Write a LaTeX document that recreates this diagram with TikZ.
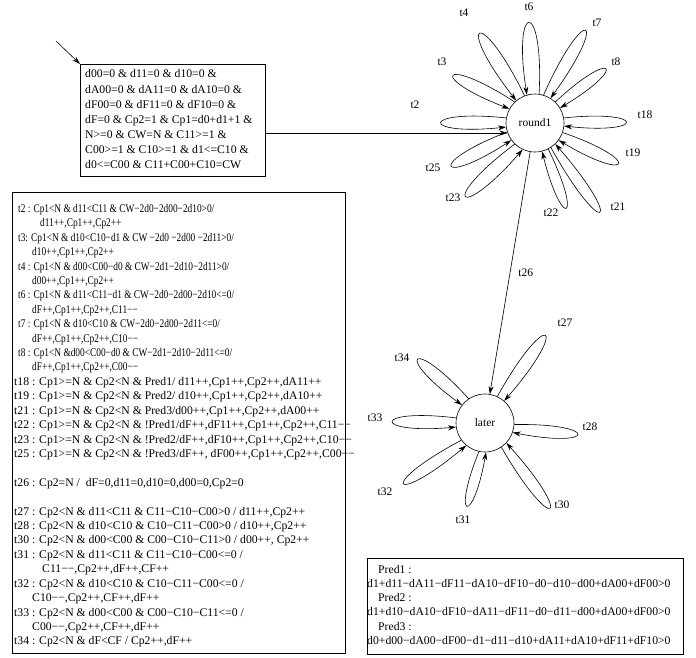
\documentclass[tikz,border=0pt]{standalone}
\usepackage{fontspec}
\setmainfont{Liberation Serif}
\newfontfamily\narrowserif{Liberation Serif}[FakeStretch=0.8]
\usepackage{tikz}
\usetikzlibrary{arrows.meta}
\tikzstyle{arrow} = [line width=0.6pt,->,>={Stealth[length=8pt,width=5pt]}]
\tikzstyle{state_node} = [circle, draw, line width=0.6pt, minimum size=58pt, inner sep=0pt, font=\fontsize{11.5}{13}\selectfont]
\tikzstyle{lbl} = [inner sep=0pt, font=\fontsize{11.5}{13}\selectfont]
\tikzstyle{box_frame} = [draw, line width=0.6pt, anchor=north west, inner sep=0pt]
\tikzstyle{box_text} = [anchor=west, align=left, inner sep=0pt]
\newcommand{\smallrule}{\narrowserif\fontsize{11.7}{14.42}\selectfont}

\begin{document}
\begin{tikzpicture}[x=1pt, y=1pt]
    \useasboundingbox (0,0) rectangle (696,-657);

    \node (round1) [state_node] at (535,-123) {round1};
    \node (later) [state_node] at (485,-423) {later};

    % initial marking
    \node (init_box) [box_frame, minimum width=185pt, minimum height=112pt] at (80,-64) {};
    \node (init) [box_text, at={(init_box.west)}, shift={(5,1)}, font=\fontsize{11.7}{15.1}\selectfont] {d00=0 \& d11=0 \& d10=0 \&\\
        dA00=0 \& dA11=0 \& dA10=0 \&\\
        dF00=0 \& dF11=0 \& dF10=0 \&\\
        dF=0 \& Cp2=1 \& Cp1=d0+d1+1 \&\\
        N>=0 \& CW=N \& C11>=1 \&\\
        C00>=1 \& C10>=1 \& d1<=C10 \&\\
        d0<=C00 \& C11+C00+C10=CW};
    \coordinate (entry) at (56,-41);

    % guards and actions
    \node (rules_box) [box_frame, minimum width=333pt, minimum height=461pt] at (12,-192) {};
    \node (rules) [box_text, at={(rules_box.west)}, shift={(2,-3)}, font=\fontsize{11.7}{14.42}\selectfont] {\smallrule\hspace*{4pt}t2 : Cp1<N \& d11<C11 \& CW−2d0−2d00−2d10>0/\\
        \smallrule\hspace*{26pt}d11++,Cp1++,Cp2++\\
        \smallrule\hspace*{4pt}t3: Cp1<N \& d10<C10−d1 \& CW −2d0 −2d00 −2d11>0/\\
        \smallrule\hspace*{18pt}d10++,Cp1++,Cp2++\\
        \smallrule\hspace*{4pt}t4 : Cp1<N \& d00<C00−d0 \& CW−2d1−2d10−2d11>0/\\
        \smallrule\hspace*{18pt}d00++,Cp1++,Cp2++\\
        \smallrule\hspace*{4pt}t6 : Cp1<N \& d11<C11−d1 \& CW−2d0−2d00−2d10<=0/\\
        \smallrule\hspace*{18pt}dF++,Cp1++,Cp2++,C11−−\\
        \smallrule\hspace*{4pt}t7 : Cp1<N \& d10<C10 \& CW−2d0−2d00−2d11<=0/\\
        \smallrule\hspace*{18pt}dF++,Cp1++,Cp2++,C10−−\\
        \smallrule\hspace*{4pt}t8 : Cp1<N \&d00<C00−d0 \& CW−2d1−2d10−2d11<=0/\\
        \smallrule\hspace*{18pt}dF++,Cp1++,Cp2++,C00−−\\
        t18 : Cp1>=N \& Cp2<N \& Pred1/ d11++,Cp1++,Cp2++,dA11++\\
        t19 : Cp1>=N \& Cp2<N \& Pred2/ d10++,Cp1++,Cp2++,dA10++\\
        t21 : Cp1>=N \& Cp2<N \& Pred3/d00++,Cp1++,Cp2++,dA00++\\
        t22 : Cp1>=N \& Cp2<N \& !Pred1/dF++,dF11++,Cp1++,Cp2++,C11−−\\
        t23 : Cp1>=N \& Cp2<N \& !Pred2/dF++,dF10++,Cp1++,Cp2++,C10−−\\
        t25 : Cp1>=N \& Cp2<N \& !Pred3/dF++, dF00++,Cp1++,Cp2++,C00−−\\
        \mbox{}\\
        t26 : Cp2=N /~ dF=0,d11=0,d10=0,d00=0,Cp2=0\\
        \mbox{}\\
        t27 : Cp2<N \& d11<C11 \& C11−C10−C00>0 / d11++,Cp2++\\
        t28 : Cp2<N \& d10<C10 \& C10−C11−C00>0 / d10++,Cp2++\\
        t30 : Cp2<N \& d00<C00 \& C00−C10−C11>0 / d00++, Cp2++\\
        t31 : Cp2<N \& d11<C11 \& C11−C10−C00<=0 /\\
        \hspace*{28pt}C11−−,Cp2++,dF++,CF++\\
        t32 : Cp2<N \& d10<C10 \& C10−C11−C00<=0 /\\
        \hspace*{18pt}C10−−,Cp2++,CF++,dF++\\
        t33 : Cp2<N \& d00<C00 \& C00−C10−C11<=0 /\\
        \hspace*{18pt}C00−−,Cp2++,CF++,dF++\\
        t34 : Cp2<N \& dF<CF / Cp2++,dF++};

    % predicates
    \node (pred_box) [box_frame, minimum width=316pt, minimum height=96pt] at (367,-558) {};
    \node (preds) [box_text, at={(pred_box.west)}, shift={(0,1.5)}, font=\fontsize{11.7}{14.2}\selectfont] {\hspace*{11pt}Pred1 :\\
        d1+d11−dA11−dF11−dA10−dF10−d0−d10−d00+dA00+dF00>0\\
        \hspace*{11pt}Pred2 :\\
        d1+d10−dA10−dF10−dA11−dF11−d0−d11−d00+dA00+dF00>0\\
        \hspace*{11pt}Pred3 :\\
        d0+d00−dA00−dF00−d1−d11−d10+dA11+dA10+dF11+dF10>0};

    % transition labels
    \node (lt2) [lbl, at={(round1.center)}, shift={(-120,18)}] {t2};
    \node (lt3) [lbl, at={(round1.center)}, shift={(-93,61)}] {t3};
    \node (lt4) [lbl, at={(round1.center)}, shift={(-71,110)}] {t4};
    \node (lt6) [lbl, at={(round1.center)}, shift={(-6,116)}] {t6};
    \node (lt7) [lbl, at={(round1.center)}, shift={(62,100)}] {t7};
    \node (lt8) [lbl, at={(round1.center)}, shift={(81,61)}] {t8};
    \node (lt18) [lbl, at={(round1.center)}, shift={(110,8)}] {t18};
    \node (lt19) [lbl, at={(round1.center)}, shift={(98,-30)}] {t19};
    \node (lt21) [lbl, at={(round1.center)}, shift={(83,-84)}] {t21};
    \node (lt22) [lbl, at={(round1.center)}, shift={(16,-90)}] {t22};
    \node (lt23) [lbl, at={(round1.center)}, shift={(-82,-75)}] {t23};
    \node (lt25) [lbl, at={(round1.center)}, shift={(-102,-45)}] {t25};
    \node (lt27) [lbl, at={(later.center)}, shift={(80,100)}] {t27};
    \node (lt34) [lbl, at={(later.center)}, shift={(-83,65)}] {t34};
    \node (lt33) [lbl, at={(later.center)}, shift={(-110,5)}] {t33};
    \node (lt28) [lbl, at={(later.center)}, shift={(105,-4)}] {t28};
    \node (lt32) [lbl, at={(later.center)}, shift={(-100,-69)}] {t32};
    \node (lt31) [lbl, at={(later.center)}, shift={(-22,-97)}] {t31};
    \node (lt30) [lbl, at={(later.center)}, shift={(77,-82)}] {t30};

    \draw [arrow] (entry) -- (init_box.north west);
    \draw [arrow] (init_box.east |- round1.200) -- (round1.200);
    \draw [arrow] (round1) -- node (lt26) [lbl, midway, right, xshift=8pt] {t26} (later);

    % self loops of round1
    \draw [arrow] (round1.170) to[out=174, in=186, distance=87pt] (round1.188);
    \draw [arrow] (round1.134) to[out=147, in=159, distance=88pt] (round1.151);
    \draw [arrow] (round1.111) to[out=116, in=128, distance=102pt] (round1.130);
    \draw [arrow] (round1.82) to[out=87, in=99, distance=96pt] (round1.106);
    \draw [arrow] (round1.73) to[out=66, in=54, distance=102pt] (round1.58);
    \draw [arrow] (round1.46) to[out=43, in=31, distance=80pt] (round1.31);
    \draw [arrow] (round1.10) to[out=6, in=-6, distance=83pt] (round1.354);
    \draw [arrow] (round1.341) to[out=-19, in=-31, distance=85pt] (round1.324);
    \draw [arrow] (round1.303) to[out=-61, in=-49, distance=108pt] (round1.314);
    \draw [arrow] (round1.297) to[out=-64, in=-76, distance=82pt] (round1.284);
    \draw [arrow] (round1.226) to[out=217, in=229, distance=97pt] (round1.245);
    \draw [arrow] (round1.198) to[out=201, in=213, distance=87pt] (round1.216);

    % self loops of later
    \draw [arrow] (later.65) to[out=61, in=49, distance=103pt] (later.49);
    \draw [arrow] (later.124) to[out=132, in=144, distance=85pt] (later.142);
    \draw [arrow] (later.170) to[out=173, in=185, distance=85pt] (later.188);
    \draw [arrow] (later.357) to[out=1, in=-11, distance=86pt] (later.341);
    \draw [arrow] (later.304) to[out=-60, in=-48, distance=104pt] (later.317);
    \draw [arrow] (later.258) to[out=248, in=260, distance=75pt] (later.272);
    \draw [arrow] (later.216) to[out=208, in=220, distance=97pt] (later.230);

\end{tikzpicture}
\end{document}
